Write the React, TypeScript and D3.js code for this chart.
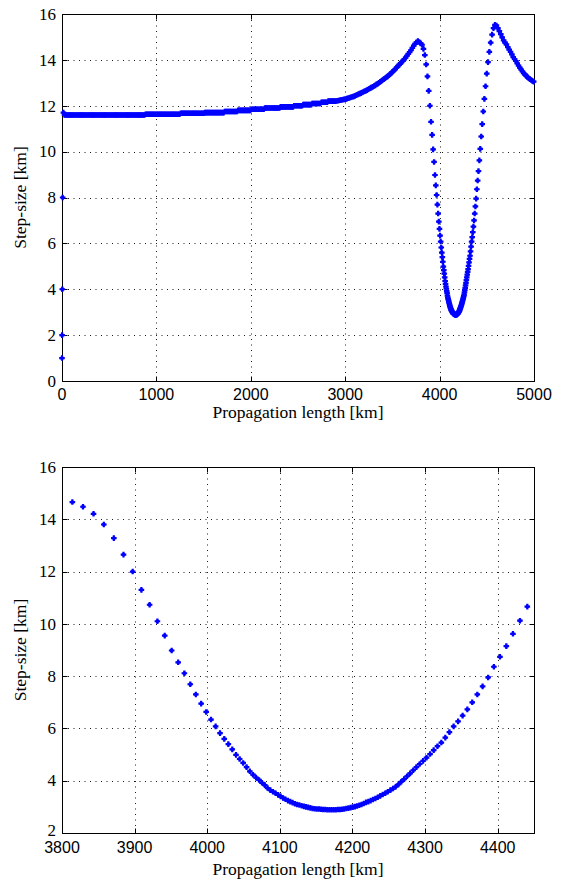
import React from "react";
import * as d3 from "d3";

// ---- Data: step sizes [km] of successive propagation steps ----
const rampSteps = [1, 2, 4, 8];
const launchSteps = [11.7];
const cruiseLevels = [11.6, 11.63, 11.67, 11.7, 11.75, 11.8, 11.85, 11.9, 11.95, 12.0, 12.05, 12.1, 12.15, 12.2];
const cruiseCounts = [74, 32, 22, 18, 12, 12, 12, 14, 12, 8, 8, 8, 6, 6];
const climbSteps = [
  12.2, 12.21, 12.22, 12.23, 12.24, 12.25, 12.26, 12.27, 12.28, 12.29, 12.31, 12.33, 12.34, 12.36,
  12.38, 12.39, 12.41, 12.43, 12.46, 12.48, 12.51, 12.53, 12.55, 12.58, 12.6, 12.63, 12.65, 12.68,
  12.71, 12.74, 12.77, 12.8, 12.83, 12.86, 12.89, 12.93, 12.96, 13.0, 13.04, 13.08, 13.12, 13.16,
  13.2, 13.24, 13.28, 13.33, 13.38, 13.43, 13.48, 13.54, 13.6, 13.66, 13.72, 13.78, 13.84, 13.9,
  13.96, 14.03, 14.1, 14.18, 14.26, 14.34, 14.42, 14.52, 14.62, 14.7, 14.77, 14.82, 14.78, 14.72,
];
const dipSteps = [
  14.66, 14.48, 14.21, 13.8, 13.28, 12.65, 12.0, 11.3, 10.73, 10.1, 9.55, 8.98, 8.53, 8.11, 7.69,
  7.3, 6.95, 6.63, 6.34, 6.08, 5.82, 5.6, 5.4, 5.2, 4.99, 4.83, 4.68, 4.52, 4.36, 4.23, 4.12, 4.03,
  3.92, 3.83, 3.72, 3.64, 3.58, 3.52, 3.46, 3.4, 3.34, 3.29, 3.24, 3.2, 3.16, 3.12, 3.09, 3.07,
  3.04, 3.02, 3.0, 2.98, 2.96, 2.94, 2.93, 2.92, 2.92, 2.91, 2.9, 2.9, 2.89, 2.89, 2.89, 2.89, 2.89,
];
const recoverySteps = [
  2.9, 2.9, 2.91, 2.92, 2.94, 2.95, 2.97, 2.99, 3.01, 3.03, 3.06, 3.09, 3.13, 3.17, 3.2, 3.24,
  3.28, 3.32, 3.37, 3.42, 3.47, 3.52, 3.58, 3.64, 3.7, 3.77, 3.86, 3.96, 4.06, 4.17, 4.28, 4.4,
  4.52, 4.64, 4.76, 4.88, 5.02, 5.17, 5.32, 5.46, 5.65, 5.86, 6.08, 6.27, 6.49, 6.73, 7.0, 7.3,
  7.61, 7.95, 8.36, 8.74, 9.15, 9.62, 10.12, 10.66, 11.2, 11.75, 12.3, 12.85, 13.4, 13.9, 14.35,
  14.75, 15.1, 15.38, 15.53,
];
const tailSteps = [
  15.5, 15.38, 15.25, 15.12, 14.98, 14.85, 14.75, 14.68, 14.56, 14.45, 14.35, 14.24, 14.12, 14.03,
  13.95, 13.85, 13.75, 13.66, 13.58, 13.5, 13.42, 13.37, 13.3, 13.25, 13.2, 13.16, 13.12, 13.08, 13.05,
];

const topXTicks = [0, 1000, 2000, 3000, 4000, 5000];
const topYTicks = [0, 2, 4, 6, 8, 10, 12, 14, 16];
const bottomXTicks = [3800, 3900, 4000, 4100, 4200, 4300, 4400];
const bottomYTicks = [2, 4, 6, 8, 10, 12, 14, 16];
const xLabel = "Propagation length [km]";
const yLabel = "Step-size [km]";

// expand the run-length cruise section
const cruiseSteps: number[] = [];
cruiseLevels.forEach((v, i) => {
  for (let k = 0; k < cruiseCounts[i]; k++) cruiseSteps.push(v);
});
const allSteps = [...rampSteps, ...launchSteps, ...cruiseSteps, ...climbSteps, ...dipSteps, ...recoverySteps, ...tailSteps];
// propagation length = cumulative sum of previous steps
const points: { x: number; y: number }[] = [];
{
  let acc = 0;
  for (const s of allSteps) {
    points.push({ x: acc, y: s });
    acc += s;
  }
}

const BLUE = "#0000ff";
const MARKER = "M-2.8,-1.1H-1.1V-2.8H1.1V-1.1H2.8V1.1H1.1V2.8H-1.1V1.1H-2.8Z";

type PanelProps = {
  left: number; right: number; top: number; bottom: number;
  xDomain: [number, number]; yDomain: [number, number];
  xTicks: number[]; yTicks: number[];
  xTickY: number; xLabelY: number; id: string;
};

function Panel(p: PanelProps) {
  const x = d3.scaleLinear().domain(p.xDomain).range([p.left, p.right]);
  const y = d3.scaleLinear().domain(p.yDomain).range([p.bottom, p.top]);
  const cx = (v: number) => Math.round(x(v)) + 0.5;
  const cy = (v: number) => Math.round(y(v)) + 0.5;
  const L = Math.round(p.left) + 0.5, R = Math.round(p.right) + 0.5;
  const T = Math.round(p.top) + 0.5, B = Math.round(p.bottom) + 0.5;
  const pts = points.filter((d) => d.x >= p.xDomain[0] && d.x <= p.xDomain[1] && d.y >= p.yDomain[0] && d.y <= p.yDomain[1]);
  const grid = { stroke: "#1a1a1a", strokeWidth: 1, strokeDasharray: "1,4.5" };
  return (
    <g>
      {p.xTicks.filter((t) => t !== p.xDomain[0] && t !== p.xDomain[1]).map((t) => (
        <line key={"gx" + t} x1={cx(t)} x2={cx(t)} y1={T} y2={B} {...grid} />
      ))}
      {p.yTicks.filter((t) => t !== p.yDomain[0] && t !== p.yDomain[1]).map((t) => (
        <line key={"gy" + t} x1={L} x2={R} y1={cy(t)} y2={cy(t)} {...grid} />
      ))}
      {p.xTicks.map((t) => (
        <g key={"tx" + t}>
          <line x1={cx(t)} x2={cx(t)} y1={B} y2={B - 5} stroke="#000" />
          <line x1={cx(t)} x2={cx(t)} y1={T} y2={T + 5} stroke="#000" />
          <text x={x(t)} y={p.xTickY} textAnchor="middle" fontFamily="'Liberation Sans', Arial, sans-serif" fontSize={16} fill="#000">
            {t}
          </text>
        </g>
      ))}
      {p.yTicks.map((t) => (
        <g key={"ty" + t}>
          <line x1={L} x2={L + 5} y1={cy(t)} y2={cy(t)} stroke="#000" />
          <line x1={R} x2={R - 5} y1={cy(t)} y2={cy(t)} stroke="#000" />
          <text x={p.left - 6} y={y(t) - (t === p.yDomain[0] && p.yDomain[0] !== 0 ? 3 : 0)} dy="0.34em" textAnchor="end" fontFamily="'Liberation Serif', 'Times New Roman', serif" fontSize={17} fill="#000">
            {t}
          </text>
        </g>
      ))}
      <rect x={L} y={T} width={R - L} height={B - T} fill="none" stroke="#000" strokeWidth={1} />
      <g fill={BLUE}>
        {pts.map((d, i) => (
          <g key={i} transform={`translate(${x(d.x).toFixed(2)},${y(d.y).toFixed(2)})`}>
            <path d={MARKER} />
            <circle r={1.9} />
          </g>
        ))}
      </g>
      <text x={(p.left + p.right) / 2} y={p.xLabelY} textAnchor="middle" fontFamily="'Liberation Serif', 'Times New Roman', serif" fontSize={17.5} fill="#000">
        {xLabel}
      </text>
      <text transform={`translate(26,${(p.top + p.bottom) / 2}) rotate(-90)`} textAnchor="middle" fontFamily="'Liberation Serif', 'Times New Roman', serif" fontSize={17.5} fill="#000">
        {yLabel}
      </text>
    </g>
  );
}

export default function App() {
  return (
    <svg width={566} height={884} style={{ position: "absolute", left: 0, top: 0, background: "#fff" }}>
      <rect width={566} height={884} fill="#fff" />
      <Panel id="top" left={62} right={534} top={14} bottom={381} xDomain={[0, 5000]} yDomain={[0, 16]}
        xTicks={topXTicks} yTicks={topYTicks} xTickY={400} xLabelY={418} />
      <Panel id="bottom" left={62} right={534} top={467} bottom={833} xDomain={[3800, 4450]} yDomain={[2, 16]}
        xTicks={bottomXTicks} yTicks={bottomYTicks} xTickY={853} xLabelY={875} />
    </svg>
  );
}
